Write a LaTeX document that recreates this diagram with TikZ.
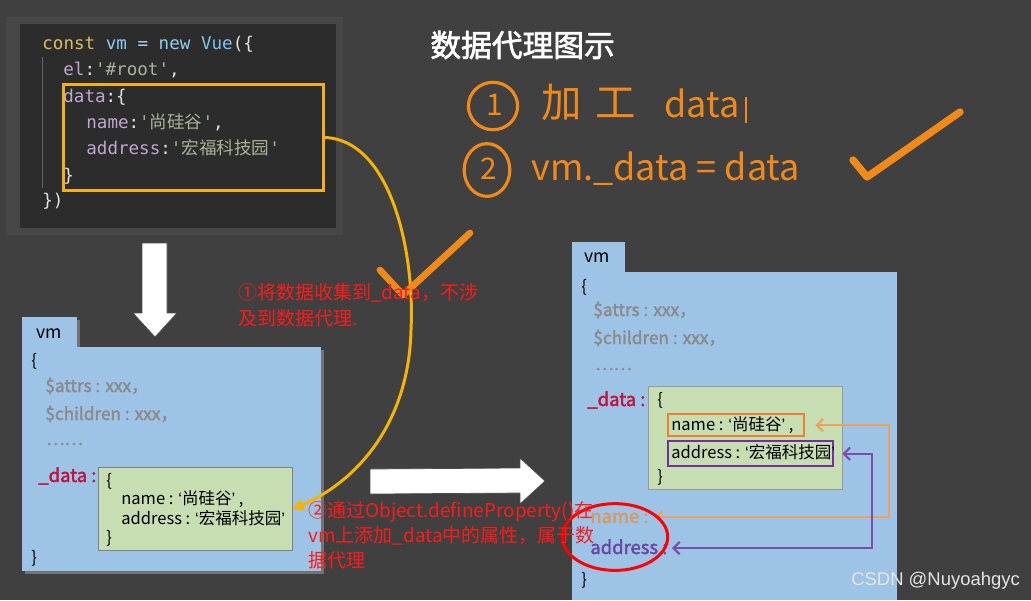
\documentclass[tikz,border=0pt]{standalone}
\usepackage{fontspec}
\setmainfont{Liberation Sans}
\newfontfamily\cjk{Noto Sans CJK SC}[AutoFakeBold=2]
\newfontfamily\cmono{DejaVu Sans Mono}
\newcommand\lqt{{\rmfamily ‘}}
\newcommand\rqt{{\rmfamily ’}}
\usetikzlibrary{arrows.meta,calc}
\definecolor{bg}{HTML}{404040}
\definecolor{codebg}{HTML}{2C2C2C}
\definecolor{halo}{HTML}{474747}
\definecolor{ckw}{HTML}{D9BE5C}
\definecolor{cvar}{HTML}{8FCDF2}
\definecolor{cvue}{HTML}{7CC4EE}
\definecolor{cop}{HTML}{B8D4E8}
\definecolor{cpl}{HTML}{E2E2E2}
\definecolor{cprop}{HTML}{BFA8CF}
\definecolor{cstr}{HTML}{A6B498}
\definecolor{ybox}{HTML}{F2B01E}
\definecolor{ycurve}{HTML}{F5B400}
\definecolor{hand}{HTML}{F28A1A}
\definecolor{vmblue}{HTML}{9DC3E6}
\definecolor{green}{HTML}{C6DEB2}
\definecolor{dred}{HTML}{C0143C}
\definecolor{gtext}{HTML}{8A8A8A}
\definecolor{obox}{HTML}{ED7D31}
\definecolor{pbox}{HTML}{7030A0}
\definecolor{oline}{HTML}{EFA05A}
\definecolor{pline}{HTML}{7E4BAE}
\definecolor{fname}{HTML}{D99A62}
\definecolor{paddr}{HTML}{6A46A6}
\definecolor{rtext}{HTML}{FF1A1A}
\tikzset{
  code/.style={anchor=base west, inner sep=0, font=\cmono\fontsize{10}{12}\selectfont},
  bx/.style={anchor=base west, inner sep=0, font=\cjk\fontsize{9.4}{11}\selectfont, text=black},
  gbx/.style={bx, text=gtext, font=\cjk\bfseries\fontsize{9.8}{11}\selectfont},
  tab/.style={anchor=base west, inner sep=0, font=\cjk\fontsize{10}{11}\selectfont, text=black},
  rt/.style={anchor=base west, inner sep=0, text=rtext, font=\cjk\fontsize{10.8}{12}\selectfont},
  hw/.style={anchor=base west, inner sep=0, text=hand, font=\cjk\fontsize{20.5}{23}\selectfont},
  hstroke/.style={draw=hand, line width=2.2pt, line cap=round, line join=round},
  warrow/.style={fill=white, draw=black!70, line width=0.4pt, line join=round},
  conn/.style={line width=1.2pt, arrows={Straight Barb[length=3.5pt,width=7pt]-Straight Barb[length=3.5pt,width=7pt]}},
}
\begin{document}
\begin{tikzpicture}[x=0.02cm,y=-0.02cm]
\useasboundingbox (0,0) rectangle (1031,600);
\fill[bg] (0,0) rectangle (1031,600);

% ---------- code box ----------
\fill[halo] (6,17) rectangle (343,235);
\fill[black!72] (12,24) rectangle (336,228);
\node[fill=codebg, inner sep=0, minimum width=316*0.02cm, minimum height=204*0.02cm, anchor=north west] (code) at (20,24) {};
\draw[black!60, line width=0.3pt] (42,57) -- (42,188);
\node[code] (c1) at (42,49) {\color{ckw}const \color{cvar}vm \color{cop}= \color{cvar}new \color{cvue}Vue\color{cpl}(\{};
\node[code] (c2) at (63,75) {\color{cprop}el\color{cpl}:\color{cstr}'\#root'\color{cpl},};
\node[code] (c3) at (63,102) {\color{cprop}data\color{cpl}:\{};
\node[code] (c4) at (86,128) {\color{cprop}name\color{cpl}:\color{cstr}'{\cjk 尚硅谷}'\color{cpl},};
\node[code] (c5) at (86,154) {\color{cprop}address\color{cpl}:\color{cstr}'{\cjk 宏福科技园}'};
\node[code] (c6) at (63,181) {\color{cpl}\}};
\node[code] (c7) at (42,206) {\color{cpl}\})};
\node[draw=ybox, line width=1.7pt, inner sep=0, minimum width=260*0.02cm, minimum height=106*0.02cm, anchor=north west] (ob) at (62,83) {};

% ---------- title & handwriting ----------
\node[anchor=west, inner sep=0, text=white, font=\cjk\bfseries\fontsize{17.5}{19}\selectfont] (title) at (430,45) {数据代理图示};
\draw[hstroke, line width=1.8pt] (493,106) ellipse [x radius=14pt, y radius=13.5pt];
\node[hw, font=\cjk\fontsize{17}{20}\selectfont] (n1) at (486,115) {1};
\node[hw, font=\cjk\fontsize{23}{25}\selectfont] (jg) at (541,117) {加\hspace{8pt}工};
\node[hw] (d1) at (664,117) {data};
\draw[hand, line width=1pt] (746,97) -- (746,123);
\draw[hstroke, line width=1.8pt] (487,170) ellipse [x radius=13pt, y radius=15pt];
\node[hw, font=\cjk\fontsize{17}{20}\selectfont] (n2) at (480,179) {2};
\node[hw] (vmd) at (531,180) {vm.\_data = data};
\draw[hstroke, line width=4.2pt] (853,160) -- (867,177) -- (960,112);

% ---------- white arrows ----------
\draw[warrow] (142,243) -- (167,243) -- (167,313) -- (177,313) -- (155,337) -- (133,313) -- (142,313) -- cycle;
\draw[warrow] (370,469) -- (520,468) -- (520,458) -- (545,481) -- (520,504) -- (520,493) -- (370,494) -- cycle;

% ---------- left vm box ----------
\fill[black!55] (25,320) rectangle (80,351);
\fill[black!55] (25,350) rectangle (324,574);
\fill[vmblue] (22,317) rectangle (77,348);
\fill[vmblue] (22,347) rectangle (321,571);
\node[tab] (lvm) at (36,338) {vm};
\node[bx] (lo) at (31,366) {\{};
\node[gbx] (la) at (45,392) {\$attrs : xxx，};
\node[gbx] (lc) at (45,420) {\$children : xxx，};
\node[gbx] (ld) at (46,445) {……};
\node[bx, text=dred, font=\cjk\bfseries\fontsize{10.5}{12}\selectfont] (ldat) at (38,482) {\_data :};
\node[fill=green, draw=black!50, line width=0.5pt, inner sep=0, minimum width=194*0.02cm, minimum height=83*0.02cm, anchor=north west] (lg) at (98,467) {};
\node[bx] (lgo) at (106,486) {\{};
\node[bx] (lgn) at (121,504) {name : \lqt 尚硅谷\rqt\ ,};
\node[bx] (lga) at (121,524) {address : \lqt 宏福科技园\rqt};
\node[bx] (lgc) at (106,543) {\}};
\node[bx] (lcl) at (31,563) {\}};

% ---------- right vm box ----------
\fill[vmblue] (572,242) rectangle (625,273);
\fill[vmblue] (572,272) rectangle (897,600);
\node[tab] (rvm) at (584,262) {vm};
\node[bx] (ro) at (581,292) {\{};
\node[gbx] (ra) at (593,316) {\$attrs : xxx，};
\node[gbx] (rc) at (593,344) {\$children : xxx，};
\node[gbx] (rd) at (595,370) {……};
\node[bx, text=dred, font=\cjk\bfseries\fontsize{10.5}{12}\selectfont] (rdat) at (587,406) {\_data :};
\node[fill=green, draw=black!40, line width=0.4pt, inner sep=0, minimum width=194*0.02cm, minimum height=103*0.02cm, anchor=north west] (rg) at (648,386) {};
\node[bx] (rgo) at (657,405) {\{};
\node[draw=obox, line width=1.4pt, inner sep=0, minimum width=136*0.02cm, minimum height=22*0.02cm, anchor=north west] (nb) at (667,413) {};
\node[bx] (rgn) at (671,430) {name : \lqt 尚硅谷\rqt\ ,};
\node[draw=pbox, line width=1.4pt, inner sep=0, minimum width=165*0.02cm, minimum height=25*0.02cm, anchor=north west] (ab) at (667,440) {};
\node[bx] (rga) at (671,458) {address : \lqt 宏福科技园\rqt};
\node[bx] (rgc) at (657,482) {\}};
\node[bx, text=fname, font=\cjk\bfseries\fontsize{10.5}{12}\selectfont] (rn) at (590,523) {name :};
\node[bx, text=paddr, font=\cjk\bfseries\fontsize{10.5}{12}\selectfont] (raddr) at (590,554) {address :};
\node[bx] (rcl) at (581,585) {\}};

\coordinate (oc) at (889,0);
\coordinate (pc) at (872,0);
\coordinate (ostart) at ($(nb.east)+(10,0)$);
\coordinate (oend) at (655,517);
\coordinate (pstart) at ($(ab.east)+(8,0)$);
\coordinate (pend) at (672,548);
\draw[conn, draw=oline] (ostart) -- (ostart -| oc) -- (oend -| oc) -- (oend);
\draw[conn, draw=pline] (pstart) -- (pstart -| pc) -- (pend -| pc) -- (pend);

\draw[red, line width=1.7pt] (615,537) ellipse [x radius=30pt, y radius=19pt];

% ---------- yellow curve and middle check ----------
\draw[ycurve, line width=1.7pt, -{Triangle[length=6pt,width=7pt]}] (ob.east) .. controls (390,140) and (415,250) .. (411,330) .. controls (409,420) and (360,480) .. (lg.east);
\draw[hstroke, line width=3.8pt] (380,270) -- (403,295) -- (470,233);

% ---------- red notes ----------
\node[rt] (r1) at (238,299) {①将数据收集到\_data，不涉};
\node[rt] (r2) at (238,325) {及到数据代理.};
\node[rt] (r3) at (308,517) {②通过Object.defineProperty()在};
\node[rt] (r4) at (308,542) {vm上添加\_data中的属性，属于数};
\node[rt] (r5) at (308,567) {据代理};

\node[anchor=base west, inner sep=0, text=black!10, font=\fontsize{10.5}{12}\selectfont] (wm) at (851,585) {CSDN @Nuyoahgyc};
\end{tikzpicture}
\end{document}
